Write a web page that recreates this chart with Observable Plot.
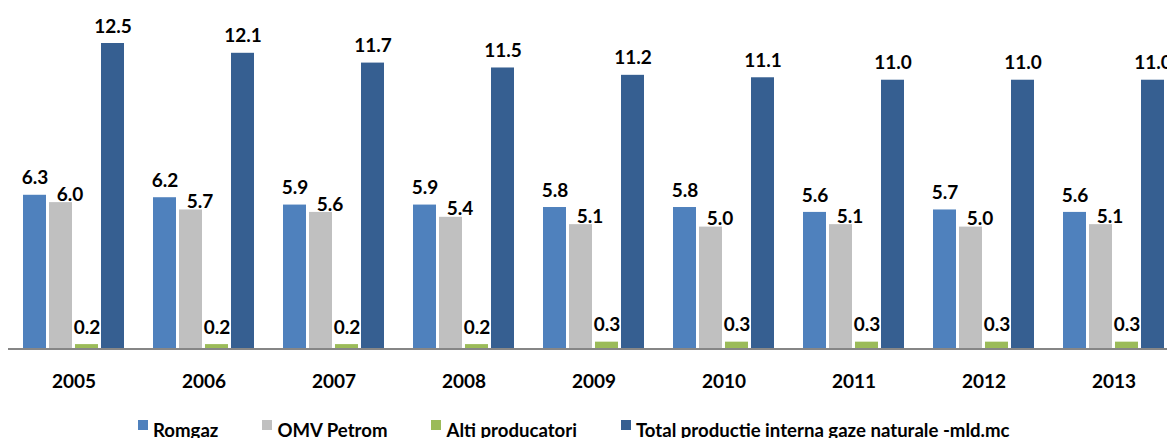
<!DOCTYPE html>
<html>
<head>
<meta charset="utf-8">
<script src="https://cdn.jsdelivr.net/npm/d3@7"></script>
<script src="https://cdn.jsdelivr.net/npm/@observablehq/plot@0.6"></script>
<style>
  html, body { margin: 0; padding: 0; background: #fff; overflow: hidden; }
  #wrap { position: relative; width: 1167px; height: 438px; overflow: hidden; font-family: Lato, "Open Sans", sans-serif; }
  #legend { position: absolute; left: 138px; top: 417px; display: flex; gap: 44px; font-weight: bold; font-size: 18.6px; line-height: 1; color: #000; white-space: nowrap; }
  #legend .item { display: flex; align-items: flex-start; }
  #legend .sw { width: 10px; height: 10px; margin-right: 5px; margin-top: 3px; }
  #legend .lbl { margin-top: 4px; }
</style>
</head>
<body>
<div id="wrap"><div id="chart"></div><div id="legend"></div></div>
<script>
const years = ["2005","2006","2007","2008","2009","2010","2011","2012","2013"];
const seriesNames = ["Romgaz","OMV Petrom","Alti producatori","Total productie interna gaze naturale -mld.mc"];
const romgaz = [6.3, 6.2, 5.9, 5.9, 5.8, 5.8, 5.6, 5.7, 5.6];
const omvPetrom = [6.0, 5.7, 5.6, 5.4, 5.1, 5.0, 5.1, 5.0, 5.1];
const altiProducatori = [0.2, 0.2, 0.2, 0.2, 0.3, 0.3, 0.3, 0.3, 0.3];
const totalProductie = [12.5, 12.1, 11.7, 11.5, 11.2, 11.1, 11.0, 11.0, 11.0];
const colors = ["#4F81BD", "#C0C0C0", "#9BBB59", "#365F91"];

const seriesValues = [romgaz, omvPetrom, altiProducatori, totalProductie];
const data = [];
years.forEach((yr, i) => {
  seriesValues.forEach((vals, s) => {
    data.push({year: yr, series: seriesNames[s], value: vals[i]});
  });
});
const petrom = data.filter(d => d.series === seriesNames[1]);
const others = data.filter(d => d.series !== seriesNames[1]);
const fmt = d3.format(".1f");

const W = 1167, H = 410;
const plot = Plot.plot({
  width: W,
  height: H,
  marginTop: 43,
  marginBottom: 61,
  marginLeft: 0,
  marginRight: 0,
  style: {fontFamily: "Lato, 'Open Sans', sans-serif", fontSize: "19px", color: "#000", background: "#fff"},
  fx: {domain: years, range: [19, 1169], paddingInner: 0.16, paddingOuter: 0, label: null, tickSize: 0, tickPadding: 25},
  x: {domain: seriesNames, padding: 0.12, axis: null},
  y: {domain: [0, 12.5], axis: null},
  color: {domain: seriesNames, range: colors},
  marks: [
    Plot.barY(data, {fx: "year", x: "series", y: "value", fill: "series"}),
    Plot.text(others, {fx: "year", x: "series", y: "value", text: d => fmt(d.value), dy: -17, fontWeight: "bold", fontSize: 19, fill: "#000"}),
    Plot.text(petrom, {fx: "year", x: "series", y: "value", text: d => fmt(d.value), dy: -8, dx: 9, fontWeight: "bold", fontSize: 19, fill: "#000"})
  ]
});
document.getElementById("chart").appendChild(plot);

// full-width baseline through the library's y scale
const y0 = plot.scale("y").apply(0);
d3.select(plot).append("line")
  .attr("x1", 8).attr("x2", W)
  .attr("y1", y0).attr("y2", y0)
  .attr("stroke", "#868686").attr("stroke-width", 2);
d3.select(plot).selectAll("g[aria-label^='fx-axis'] text").attr("font-weight", "bold");

const legend = d3.select("#legend");
seriesNames.forEach((name, i) => {
  const it = legend.append("div").attr("class", "item");
  it.append("div").attr("class", "sw").style("background", colors[i]);
  it.append("div").attr("class", "lbl").text(name);
});
</script>
</body>
</html>
